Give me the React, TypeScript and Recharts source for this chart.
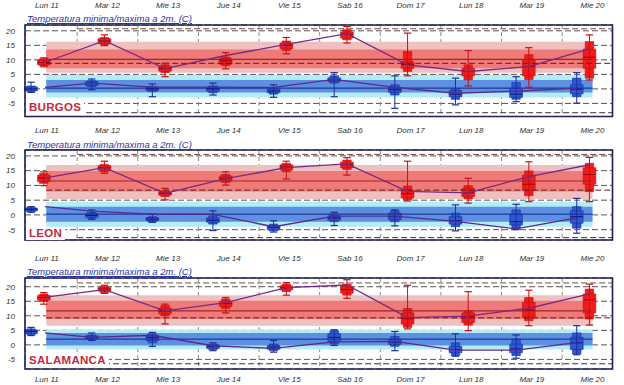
import React from 'react';
import {
  ComposedChart,
  Line,
  XAxis,
  YAxis,
  CartesianGrid,
  ReferenceArea,
  ReferenceLine,
} from 'recharts';

type Stat = [number, number, number, number, number, number, number]; // whisker lo, p10, p25, median, p75, p90, whisker hi

const DAYS = ['Lun 11', 'Mar 12', 'Mie 13', 'Jue 14', 'Vie 15', 'Sab 16', 'Dom 17', 'Lun 18', 'Mar 19', 'Mie 20'];
const DAY_CENTRES = [0.5, 1.5, 2.5, 3.5, 4.5, 5.5, 6.5, 7.5, 8.5, 9.5];
const DAY_BOUNDS = [1, 2, 3, 4, 5, 6, 7, 8, 9];
const MAX_TIMES = [0.45, 1.45, 2.45, 3.45, 4.45, 5.45, 6.45, 7.45, 8.45, 9.45];
const MIN_TIMES = [0.24, 1.24, 2.24, 3.24, 4.24, 5.24, 6.24, 7.24, 8.24, 9.24];
const MIN_LINE_TIMES = [0.47, 1.24, 2.24, 3.24, 4.24, 5.24, 6.24, 7.24, 8.24, 9.24];
const Y_TICKS = [-5, 0, 5, 10, 15, 20];
const TITLE = 'Temperatura minima/maxima a 2m. (C)';

// Burgos
const BURGOS_MAX: Stat[] = [
  [7.6, 7.9, 8.3, 9.1, 9.9, 10.4, 10.7],
  [14.9, 15.2, 15.6, 16.5, 17.3, 17.7, 18.6],
  [4.2, 5.6, 6.1, 7.0, 7.8, 8.3, 8.8],
  [6.9, 8.0, 8.5, 9.7, 10.5, 11.0, 12.5],
  [12.1, 13.2, 13.8, 15.0, 15.8, 16.5, 17.7],
  [15.8, 16.9, 17.5, 18.8, 19.6, 20.4, 21.5],
  [4.5, 6.0, 7.1, 8.4, 9.4, 12.9, 19.2],
  [1.0, 3.1, 4.5, 6.0, 7.1, 8.3, 13.2],
  [0.6, 3.2, 4.5, 7.7, 10.0, 11.8, 14.2],
  [3.1, 3.7, 7.1, 10.9, 13.7, 16.3, 18.6],
];
const BURGOS_MIN: Stat[] = [
  [-1.2, -0.9, -0.6, 0.0, 0.7, 1.0, 2.3],
  [-0.3, 0.8, 1.2, 1.9, 2.5, 2.8, 3.4],
  [-2.7, -0.9, -0.5, 0.0, 0.5, 0.8, 1.7],
  [-2.1, -1.3, -0.8, 0.0, 0.6, 1.0, 2.0],
  [-2.9, -1.8, -1.3, -0.7, 0.0, 0.4, 1.4],
  [-2.7, 2.0, 2.5, 3.1, 3.8, 4.5, 5.6],
  [-6.7, -2.1, -1.2, -0.3, 0.6, 1.4, 4.5],
  [-5.5, -3.6, -2.7, -1.8, -0.6, 0.2, 3.7],
  [-4.4, -3.6, -2.9, -1.8, 0.2, 2.2, 4.2],
  [-4.9, -2.7, -1.7, -0.1, 1.4, 3.7, 5.6],
];
const BURGOS_HI_LINE = [9.0, 16.6, 7.0, 11.5, 15.3, 19.0, 8.3, 6.0, 7.7, 13.8];
const BURGOS_LO_LINE = [0.5, 2.0, 0.6, 0.6, 0.5, 3.3, 0.5, -1.5, -0.8, 0.3];
const BURGOS_CLIM = { hiOuter: [5.6, 16.2], hiInner: [7.1, 13.6], hiMean: 10.2, hiDash: 8.8, loOuter: [-3.0, 4.8], loInner: [-1.2, 3.1], loMean: 0.3, recHi: 20.7, recLo: -8.2 };

// Leon
const LEON_MAX: Stat[] = [
  [9.9, 10.7, 11.3, 12.5, 13.5, 14.1, 14.6],
  [14.1, 14.6, 15.1, 16.0, 16.7, 17.1, 18.2],
  [5.1, 6.2, 6.7, 7.3, 7.8, 8.2, 9.0],
  [10.1, 11.0, 11.5, 12.4, 13.2, 13.7, 14.6],
  [12.2, 14.6, 15.2, 16.3, 17.0, 17.5, 18.2],
  [13.5, 15.4, 16.0, 17.0, 17.9, 18.6, 19.4],
  [4.7, 5.1, 5.8, 7.2, 8.4, 9.8, 18.2],
  [4.0, 5.4, 6.2, 7.5, 9.0, 9.9, 12.4],
  [4.5, 6.5, 8.4, 10.4, 13.5, 14.9, 18.0],
  [4.5, 7.9, 10.4, 13.7, 16.0, 17.5, 19.5],
];
const LEON_MIN: Stat[] = [
  [0.9, 1.1, 1.4, 1.9, 2.3, 2.5, 2.8],
  [-1.5, -1.1, -0.8, -0.2, 0.5, 0.9, 1.7],
  [-2.5, -2.3, -1.9, -1.4, -0.9, -0.6, 0.2],
  [-5.3, -3.1, -2.5, -1.8, -1.0, -0.3, 1.4],
  [-5.8, -5.4, -5.0, -4.2, -3.6, -3.1, -2.0],
  [-3.6, -2.3, -1.8, -1.0, -0.3, 0.2, 0.9],
  [-3.7, -2.3, -1.6, -0.6, 0.6, 1.4, 1.7],
  [-5.4, -4.0, -3.1, -2.0, -0.6, 0.6, 3.4],
  [-5.0, -4.5, -3.4, -2.3, 0.2, 1.7, 3.6],
  [-6.2, -4.5, -2.8, -0.6, 1.4, 2.8, 5.6],
];
const LEON_HI_LINE = [12.5, 16.0, 7.3, 12.3, 16.0, 17.3, 8.0, 7.5, 13.0, 17.0];
const LEON_LO_LINE = [2.8, 1.3, 0.3, 0.2, -4.0, -0.4, -0.4, -2.2, -4.7, -1.0];
const LEON_CLIM = { hiOuter: [5.4, 16.9], hiInner: [7.9, 14.9], hiMean: 11.5, hiDash: 8.4, loOuter: [-4.0, 4.5], loInner: [-2.3, 2.8], loMean: 0.3, recHi: 20.5, recLo: -7.7 };

// Salamanca
const SALAMANCA_MAX: Stat[] = [
  [14.0, 14.9, 15.4, 16.3, 17.0, 17.5, 18.0],
  [17.7, 18.0, 18.5, 19.2, 19.7, 20.1, 20.5],
  [7.2, 10.0, 10.7, 11.7, 12.6, 13.5, 14.0],
  [11.0, 12.5, 13.2, 14.2, 15.0, 15.8, 16.3],
  [17.1, 18.3, 18.9, 19.7, 20.3, 20.9, 21.4],
  [16.0, 17.1, 17.8, 19.0, 20.0, 20.9, 22.4],
  [5.5, 6.0, 7.2, 9.0, 11.0, 12.5, 20.5],
  [4.9, 6.8, 7.7, 9.7, 11.0, 11.7, 18.3],
  [6.6, 8.3, 9.5, 12.0, 14.6, 16.3, 18.8],
  [6.8, 8.9, 11.0, 15.5, 17.5, 19.2, 20.9],
];
const SALAMANCA_MIN: Stat[] = [
  [3.2, 3.5, 3.9, 4.6, 5.1, 5.5, 6.0],
  [1.5, 1.8, 2.1, 2.6, 3.1, 3.4, 4.1],
  [-0.5, 0.7, 1.5, 2.6, 3.3, 3.8, 4.3],
  [-2.0, -1.6, -1.2, -0.5, 0.0, 0.3, 0.7],
  [-2.5, -2.0, -1.5, -0.8, -0.2, 0.3, 1.5],
  [-0.2, 0.3, 1.1, 2.6, 3.8, 4.9, 5.2],
  [-2.0, -0.5, 0.2, 1.0, 2.0, 2.9, 4.6],
  [-3.9, -3.7, -2.7, -1.6, -0.5, 0.7, 3.8],
  [-4.6, -3.7, -2.7, -1.4, 0.3, 2.0, 3.4],
  [-3.4, -3.1, -1.6, 0.7, 2.6, 4.1, 6.6],
];
const SALAMANCA_HI_LINE = [16.3, 19.0, 11.7, 14.5, 19.7, 20.6, 9.4, 9.9, 12.6, 17.5];
const SALAMANCA_LO_LINE = [4.1, 2.6, 3.3, -0.3, -1.2, 1.0, 1.2, -1.8, -1.8, 0.8];
const SALAMANCA_CLIM = { hiOuter: [6.6, 17.1], hiInner: [8.9, 15.2], hiMean: 11.7, hiDash: 9.3, loOuter: [-1.6, 5.2], loInner: [-0.2, 4.1], loMean: 2.0, recHi: 21.3, recLo: -6.5 };

const X_MIN = 0.14;
const X_MAX = 9.83;
const BAND_FROM = 0.49;
const BAND_TO = 9.5;
const FONT = '"Liberation Sans", Arial, sans-serif';

const RED = { fill: '#f01c1c', edge: '#c81010', mid: '#9a0000' };
const BLUE = { fill: '#2d57d6', edge: '#1a2f9a', mid: '#0b1a70' };

function buildRows(hi: number[], lo: number[]) {
  const rows = [
    ...MAX_TIMES.map((t, i) => ({ t, hi: hi[i] })),
    ...MIN_LINE_TIMES.map((t, i) => ({ t, lo: lo[i] })),
  ];
  return rows.sort((a, b) => a.t - b.t);
}

function boxMarks(stats: Stat[], times: number[], c: typeof RED, k: string) {
  const out: React.ReactNode[] = [];
  stats.forEach((s, i) => {
    const t = times[i];
    const [wl, p10, p25, md, p75, p90, wh] = s;
    out.push(<ReferenceLine key={`${k}w${i}`} segment={[{ x: t, y: wl }, { x: t, y: wh }]} stroke={c.edge} strokeWidth={1} ifOverflow="visible" />);
    out.push(<ReferenceLine key={`${k}a${i}`} segment={[{ x: t - 0.06, y: wl }, { x: t + 0.06, y: wl }]} stroke={c.edge} strokeWidth={1.2} ifOverflow="visible" />);
    out.push(<ReferenceLine key={`${k}b${i}`} segment={[{ x: t - 0.06, y: wh }, { x: t + 0.06, y: wh }]} stroke={c.edge} strokeWidth={1.2} ifOverflow="visible" />);
    out.push(<ReferenceArea key={`${k}n${i}`} x1={t - 0.07} x2={t + 0.07} y1={p10} y2={p90} fill={c.fill} fillOpacity={1} stroke={c.edge} strokeWidth={0.6} ifOverflow="visible" />);
    out.push(<ReferenceArea key={`${k}r${i}`} x1={t - 0.105} x2={t + 0.105} y1={p25} y2={p75} fill={c.fill} fillOpacity={1} stroke={c.edge} strokeWidth={0.6} ifOverflow="visible" />);
    out.push(<ReferenceLine key={`${k}m${i}`} segment={[{ x: t - 0.1, y: md }, { x: t + 0.1, y: md }]} stroke={c.mid} strokeWidth={1} ifOverflow="visible" />);
  });
  return out;
}

const dayTick = (shift: number) => (props: any) => {
  const { x, y, payload } = props;
  return (
    <text x={x} y={y + shift} textAnchor="middle" fontSize={8} fontStyle="italic" fill="#333" fontFamily={FONT}>
      {DAYS[Math.floor(payload.value)]}
    </text>
  );
};

interface PanelProps {
  top: number;
  height: number;
  bottom: number;
  yDomain: [number, number];
  withBottomRow?: boolean;
  maxStats: Stat[];
  minStats: Stat[];
  hiLine: number[];
  loLine: number[];
  clim: typeof BURGOS_CLIM;
}

function Panel(p: PanelProps) {
  const rows = buildRows(p.hiLine, p.loLine);
  const c = p.clim;
  return (
    <div style={{ position: 'absolute', left: 0, top: p.top }}>
      <ComposedChart width={624} height={p.height} data={rows} margin={{ top: 0, right: 11.5, bottom: p.bottom, left: 0 }}>
        <XAxis xAxisId={0} type="number" dataKey="t" domain={[X_MIN, X_MAX]} ticks={DAY_BOUNDS} allowDataOverflow hide height={0} />
        <XAxis xAxisId="top" orientation="top" type="number" dataKey="t" domain={[X_MIN, X_MAX]} ticks={DAY_CENTRES} interval={0} allowDataOverflow height={25} axisLine={false} tickLine={false} tickSize={0} tickMargin={0} tick={dayTick(-17)} />
        {p.withBottomRow && (
          <XAxis xAxisId="bot" orientation="bottom" type="number" dataKey="t" domain={[X_MIN, X_MAX]} ticks={DAY_CENTRES} interval={0} allowDataOverflow height={16.5} axisLine={false} tickLine={false} tickSize={0} tickMargin={0} tick={dayTick(12.5)} />
        )}
        <YAxis type="number" domain={p.yDomain} ticks={Y_TICKS} allowDataOverflow width={25} axisLine={false} tickLine={false} tickSize={0} tickMargin={10} tick={{ fontSize: 8, fontStyle: 'italic', fill: '#333', fontFamily: FONT }} interval={0} />

        <ReferenceArea x1={BAND_FROM} x2={BAND_TO} y1={c.hiOuter[0]} y2={c.hiOuter[1]} fill="#eec0c0" fillOpacity={1} stroke="none" ifOverflow="visible" />
        <ReferenceArea x1={BAND_FROM} x2={BAND_TO} y1={c.hiInner[0]} y2={c.hiInner[1]} fill="#f07a78" fillOpacity={1} stroke="none" ifOverflow="visible" />
        <ReferenceArea x1={BAND_FROM} x2={BAND_TO} y1={c.loOuter[0]} y2={c.loOuter[1]} fill="#b4ecf6" fillOpacity={1} stroke="none" ifOverflow="visible" />
        <ReferenceArea x1={BAND_FROM} x2={BAND_TO} y1={c.loInner[0]} y2={c.loInner[1]} fill="#5d90e2" fillOpacity={1} stroke="none" ifOverflow="visible" />

        <CartesianGrid horizontal vertical={false} stroke="#555" strokeDasharray="6 3" />
        <CartesianGrid horizontal={false} vertical stroke="#8a8a8a" strokeDasharray="4 3" />

        <ReferenceLine segment={[{ x: BAND_FROM, y: c.hiMean }, { x: BAND_TO, y: c.hiMean }]} stroke="#a02626" strokeWidth={1.2} />
        <ReferenceLine segment={[{ x: BAND_FROM, y: c.loMean }, { x: BAND_TO, y: c.loMean }]} stroke="#1c3a9a" strokeWidth={1.2} />
        <ReferenceLine segment={[{ x: BAND_FROM, y: c.hiDash }, { x: X_MAX, y: c.hiDash }]} stroke="#5a2020" strokeDasharray="6 3" />
        <ReferenceLine segment={[{ x: 1, y: c.recHi }, { x: X_MAX, y: c.recHi }]} stroke="#7a4a3a" strokeDasharray="6 3" />
        <ReferenceLine segment={[{ x: 1, y: c.recLo }, { x: X_MAX, y: c.recLo }]} stroke="#333" strokeDasharray="6 3" />

        {boxMarks(p.maxStats, MAX_TIMES, RED, 'r')}
        {boxMarks(p.minStats, MIN_TIMES, BLUE, 'b')}

        <Line dataKey="hi" stroke="#7a2a82" strokeWidth={1.3} dot={false} connectNulls isAnimationActive={false} />
        <Line dataKey="lo" stroke="#5a2a8a" strokeWidth={1.3} dot={false} connectNulls isAnimationActive={false} />

        <ReferenceArea x1={X_MIN} x2={X_MAX} y1={p.yDomain[0]} y2={p.yDomain[1]} fill="none" stroke="#1c1f5a" strokeWidth={1.6} ifOverflow="visible" />
      </ComposedChart>
    </div>
  );
}

const titleStyle = (top: number): React.CSSProperties => ({
  position: 'absolute', left: 27, top, fontSize: 9.5, lineHeight: '11px', fontStyle: 'italic',
  textDecoration: 'underline', color: '#2b33a6', fontFamily: FONT, whiteSpace: 'nowrap',
});
const cityStyle = (top: number): React.CSSProperties => ({
  position: 'absolute', left: 26, top, fontSize: 11.5, lineHeight: '13px', fontWeight: 'bold',
  color: '#c42a3f', fontFamily: FONT, background: '#fff', padding: '0 3px', letterSpacing: 0.3,
});

export default function App() {
  return (
    <div style={{ position: 'absolute', left: 0, top: 0, width: 624, height: 385, overflow: 'hidden', background: '#fff' }}>
      <Panel top={0} height={125} bottom={8.5} yDomain={[-9.5, 22]} maxStats={BURGOS_MAX} minStats={BURGOS_MIN} hiLine={BURGOS_HI_LINE} loLine={BURGOS_LO_LINE} clim={BURGOS_CLIM} />
      <Panel top={125} height={125} bottom={10} yDomain={[-8.5, 22]} maxStats={LEON_MAX} minStats={LEON_MIN} hiLine={LEON_HI_LINE} loLine={LEON_LO_LINE} clim={LEON_CLIM} />
      <Panel top={252.5} height={132.5} bottom={0} yDomain={[-8.3, 23]} withBottomRow maxStats={SALAMANCA_MAX} minStats={SALAMANCA_MIN} hiLine={SALAMANCA_HI_LINE} loLine={SALAMANCA_LO_LINE} clim={SALAMANCA_CLIM} />

      <div style={titleStyle(13)}>{TITLE}</div>
      <div style={titleStyle(139)}>{TITLE}</div>
      <div style={titleStyle(266)}>{TITLE}</div>

      <div style={cityStyle(101)}>BURGOS</div>
      <div style={cityStyle(226.5)}>LEON</div>
      <div style={cityStyle(354)}>SALAMANCA</div>
    </div>
  );
}
